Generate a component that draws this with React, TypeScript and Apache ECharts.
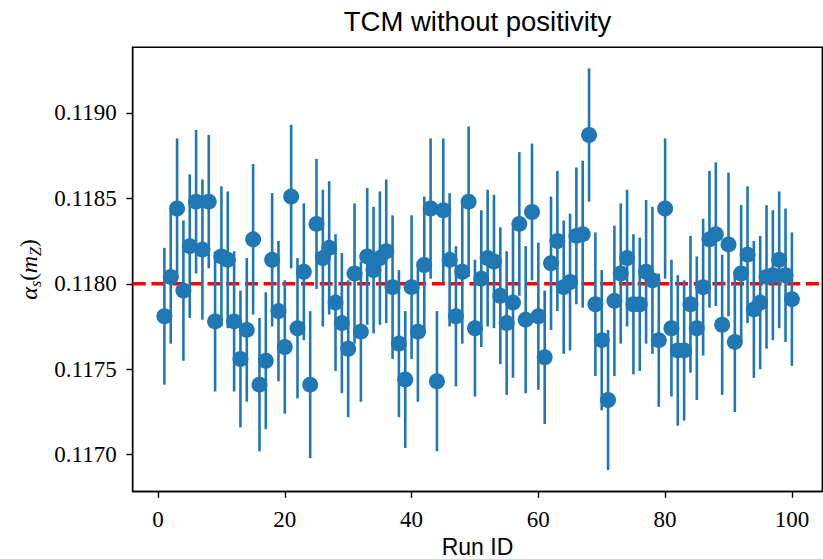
import { useEffect, useRef } from "react";
import * as echarts from "echarts";

// Run identifiers (x) and fitted alpha_s(m_Z) with symmetric uncertainties
const runIds = Array.from({ length: 100 }, (_, i) => i + 1);

const alphaS = [
  0.11781, 0.11804, 0.11844, 0.11796, 0.11822, 0.11848, 0.1182, 0.11848, 0.11778, 0.11816,
  0.11814, 0.11778, 0.11756, 0.11773, 0.11826, 0.11741, 0.11755, 0.11814, 0.11784, 0.11763,
  0.11851, 0.11774, 0.11807, 0.11741, 0.11835, 0.11815, 0.11821, 0.11789, 0.11777, 0.11762,
  0.11806, 0.11772, 0.11816, 0.11808, 0.11815, 0.11819, 0.11798, 0.11765, 0.11744, 0.11798,
  0.11772, 0.11811, 0.11844, 0.11743, 0.11843, 0.11814, 0.11781, 0.11807, 0.11848, 0.11774,
  0.11803, 0.11815, 0.11813, 0.11793, 0.11777, 0.11789, 0.11835, 0.11779, 0.11842, 0.11781,
  0.11757, 0.11812, 0.11825, 0.11798, 0.11801, 0.11828, 0.11829, 0.11887, 0.11788, 0.11767,
  0.11732, 0.1179, 0.11806, 0.11815, 0.11788, 0.11788, 0.11807, 0.11802, 0.11767, 0.11844,
  0.11774, 0.11761, 0.11761, 0.11788, 0.11774, 0.11798, 0.11826, 0.11829, 0.11776, 0.11823,
  0.11766, 0.11806, 0.11817, 0.11785, 0.11789, 0.11804, 0.11805, 0.11814, 0.11805, 0.11791,
];

const alphaErr = [
  0.0004, 0.00039, 0.00041, 0.00041, 0.00042, 0.00042, 0.00041, 0.00039, 0.00041, 0.00041,
  0.0004, 0.00041, 0.0004, 0.00042, 0.00044, 0.00039, 0.0004, 0.00039, 0.00041, 0.00039,
  0.00042, 0.00041, 0.0004, 0.00043, 0.00038, 0.0004, 0.00039, 0.0004, 0.00041, 0.0004,
  0.00041, 0.00041, 0.0004, 0.00037, 0.00039, 0.00042, 0.00042, 0.00043, 0.0004, 0.00042,
  0.00041, 0.0004, 0.00041, 0.00041, 0.00042, 0.00039, 0.00041, 0.00042, 0.00044, 0.0004,
  0.0004, 0.0004, 0.00039, 0.0004, 0.00042, 0.00044, 0.00042, 0.00043, 0.0004, 0.00043,
  0.00039, 0.00039, 0.00041, 0.00039, 0.0004, 0.0004, 0.00043, 0.00039, 0.00042, 0.00041,
  0.00041, 0.00044, 0.00041, 0.0004, 0.00041, 0.00039, 0.00042, 0.00043, 0.00039, 0.00041,
  0.0004, 0.00044, 0.00041, 0.0004, 0.00042, 0.0004, 0.0004, 0.00042, 0.00041, 0.00042,
  0.00041, 0.0004, 0.0004, 0.0004, 0.00039, 0.00042, 0.00038, 0.0004, 0.00039, 0.00039,
];

const referenceValue = 0.118;
const xTicks = [0, 20, 40, 60, 80, 100];
const yTicks = [0.117, 0.1175, 0.118, 0.1185, 0.119];

const X_MIN = -4.0;
const X_MAX = 104.8;
const Y_MIN = 0.116785;
const Y_MAX = 0.119383;

const BLUE = "#1f77b4";
const SERIF = '"Liberation Serif", "Times New Roman", serif';
const SANS = '"Liberation Sans", Arial, Helvetica, sans-serif';

export default function App() {
  const ref = useRef<HTMLDivElement>(null);

  useEffect(() => {
    if (!ref.current) return;
    const chart = echarts.init(ref.current, null, { renderer: "svg" });
    const points = runIds.map((id, i) => [id, alphaS[i], alphaErr[i]]);

    const axisLineStyle = { color: "#000", width: 1.4 };

    chart.setOption({
      animation: false,
      backgroundColor: "#fff",
      grid: {
        left: 132.7,
        right: 0.7,
        top: 47.3,
        bottom: 67.5,
        show: true,
        borderColor: "#000",
        borderWidth: 1.4,
        backgroundColor: "transparent",
        containLabel: false,
      },
      xAxis: {
        type: "value",
        min: X_MIN,
        max: X_MAX,
        splitLine: { show: false },
        axisLine: { show: true, onZero: false, lineStyle: axisLineStyle },
        axisTick: { show: true, customValues: xTicks, length: 6.3, lineStyle: axisLineStyle },
        axisLabel: {
          customValues: xTicks,
          fontFamily: SERIF,
          fontSize: 23,
          lineHeight: 23,
          color: "#000",
          margin: 16,
        },
      },
      yAxis: {
        type: "value",
        min: Y_MIN,
        max: Y_MAX,
        splitLine: { show: false },
        axisLine: { show: true, onZero: false, lineStyle: axisLineStyle },
        axisTick: { show: true, customValues: yTicks, length: 6.3, lineStyle: axisLineStyle },
        axisLabel: {
          customValues: yTicks,
          formatter: (v: number) => v.toFixed(4),
          fontFamily: SERIF,
          fontSize: 23,
          color: "#000",
          margin: 16,
        },
      },
      series: [
        {
          // reference value as a dashed horizontal line across the axes
          type: "line",
          data: [
            [X_MIN, referenceValue],
            [X_MAX, referenceValue],
          ],
          symbol: "none",
          lineStyle: { color: "#ff0000", width: 3.4, type: [13, 5.7] },
          z: 2,
          silent: true,
        },
        {
          // vertical error bars
          type: "custom",
          data: points,
          encode: { x: 0, y: 1 },
          renderItem: (_params: any, api: any) => {
            const x = api.value(0);
            const y = api.value(1);
            const e = api.value(2);
            const lo = api.coord([x, y - e]);
            const hi = api.coord([x, y + e]);
            return {
              type: "line",
              shape: { x1: lo[0], y1: lo[1], x2: hi[0], y2: hi[1] },
              style: { stroke: BLUE, lineWidth: 2.6 },
            };
          },
          z: 3,
          silent: true,
        },
        {
          type: "scatter",
          data: points.map((p) => [p[0], p[1]]),
          symbol: "circle",
          symbolSize: 16,
          itemStyle: { color: BLUE, opacity: 1 },
          z: 4,
          silent: true,
        },
      ],
      graphic: [
        {
          type: "text",
          x: 477.5,
          y: 21.5,
          style: {
            text: "TCM without positivity",
            font: `27.5px ${SANS}`,
            fill: "#000",
            align: "center",
            verticalAlign: "middle",
          },
        },
        {
          type: "text",
          x: 477.5,
          y: 546.5,
          style: {
            text: "Run ID",
            font: `23px ${SANS}`,
            lineHeight: 22,
            fill: "#000",
            align: "center",
            verticalAlign: "middle",
          },
        },
        {
          type: "group",
          x: 28.5,
          y: 269.5,
          rotation: Math.PI / 2,
          children: [
            {
              type: "text",
              x: 0,
              y: 0,
              style: {
                text: "{it|α}{sub|s}{up|(}{it|m}{sub|Z}{up|)}",
                align: "center",
                verticalAlign: "middle",
                fill: "#000",
                rich: {
                  it: {
                    fontFamily: SERIF,
                    fontStyle: "italic",
                    fontSize: 24,
                    lineHeight: 30,
                    verticalAlign: "middle",
                    fill: "#000",
                  },
                  up: {
                    fontFamily: SERIF,
                    fontSize: 23,
                    lineHeight: 30,
                    verticalAlign: "middle",
                    fill: "#000",
                  },
                  sub: {
                    fontFamily: SERIF,
                    fontStyle: "italic",
                    fontSize: 16,
                    lineHeight: 16,
                    verticalAlign: "bottom",
                    fill: "#000",
                  },
                },
              },
            },
          ],
        },
      ],
    });

    return () => chart.dispose();
  }, []);

  return (
    <div
      ref={ref}
      style={{ position: "fixed", left: 0, top: 0, width: 823, height: 559, background: "#fff" }}
    />
  );
}
